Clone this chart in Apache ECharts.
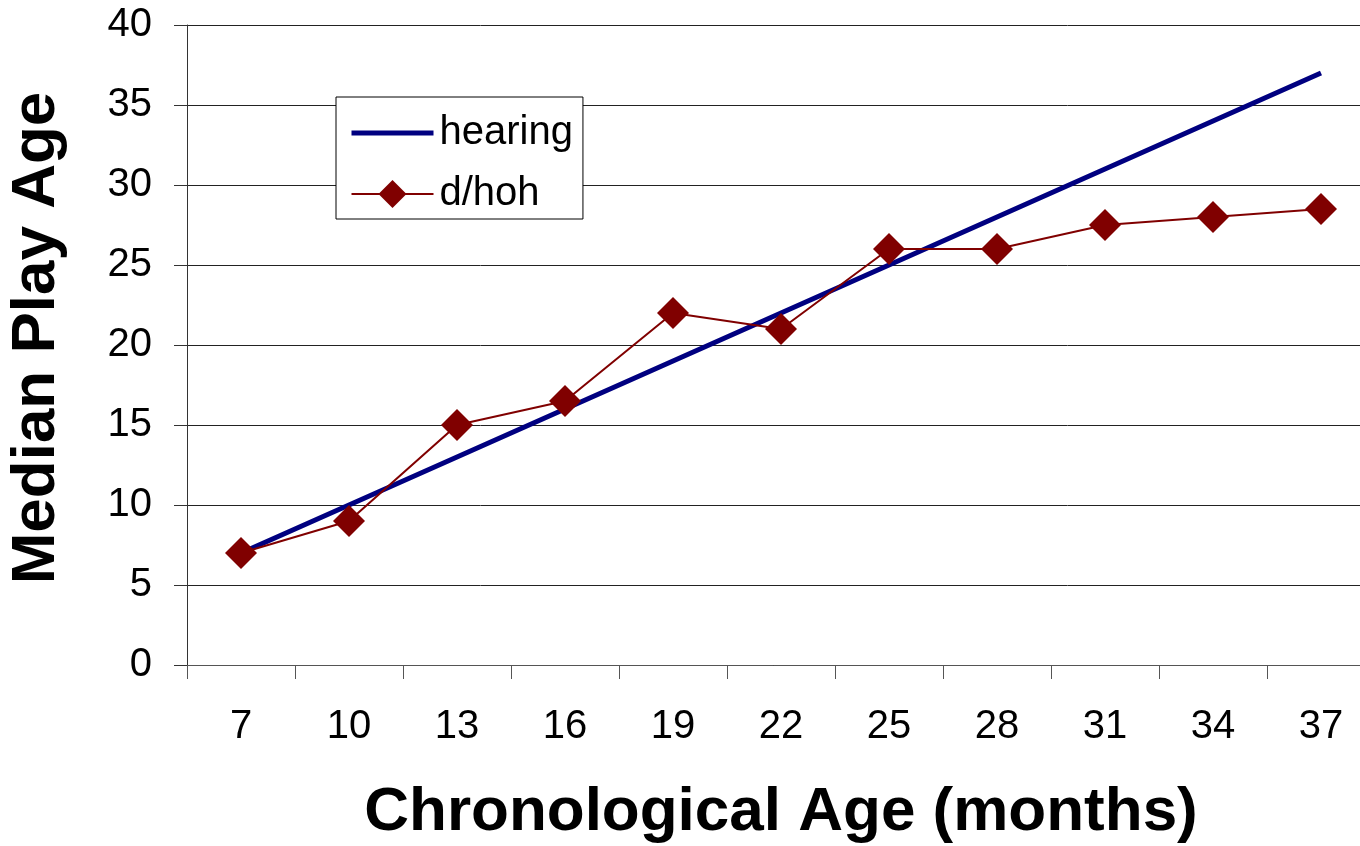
<!DOCTYPE html>
<html>
<head>
<meta charset="utf-8">
<style>
html,body{margin:0;padding:0;background:#fff;}
#c{width:1360px;height:846px;}
</style>
<script src="https://cdn.jsdelivr.net/npm/echarts@6/dist/echarts.min.js"></script>
</head>
<body>
<div id="c"></div>
<script>
const categories = ['7','10','13','16','19','22','25','28','31','34','37'];
const hearing = [7,10,13,16,19,22,25,28,31,34,37];
const dhoh = [7,9,15,16.5,22,21,26,26,27.5,28,28.5];
const yTicks = {min:0, max:40, interval:5};

const chart = echarts.init(document.getElementById('c'));
const FF = '"Liberation Sans", Arial, sans-serif';
chart.setOption({
  animation:false,
  backgroundColor:'#fff',
  grid:{left:187, right:-15, top:25, bottom:181, containLabel:false, outerBoundsMode:'none'},
  legend:{
    orient:'vertical', left:336, top:97,
    padding:[16,10,5,13],
    itemGap:21, itemWidth:82, itemHeight:35,
    borderColor:'#000', borderWidth:1,
    backgroundColor:'#fff',
    textStyle:{fontFamily:FF, fontSize:40, color:'#000', lineHeight:40, padding:[0,0,0,1]},
    data:[
      {name:'hearing', itemStyle:{opacity:0}, lineStyle:{width:5, color:'#000080'}},
      {name:'d/hoh', lineStyle:{width:2, color:'#800000'}}
    ]
  },
  xAxis:{
    type:'category', data:categories, boundaryGap:true,
    name:'Chronological Age (months)', nameLocation:'middle', nameGap:117,
    nameTextStyle:{fontFamily:FF, fontSize:62, fontWeight:'bold', color:'#000'},
    axisLine:{lineStyle:{color:'#555', width:1}},
    axisTick:{show:true, length:14, lineStyle:{color:'#555'}},
    axisLabel:{fontFamily:FF, fontSize:40, color:'#000', margin:42}
  },
  yAxis:{
    type:'value', min:yTicks.min, max:yTicks.max, interval:yTicks.interval,
    name:'Median Play Age', nameLocation:'middle', nameGap:119, nameRotate:90,
    nameTextStyle:{fontFamily:FF, fontSize:62, fontWeight:'bold', color:'#000', padding:[0,0,0,14]},
    axisLine:{show:true, lineStyle:{color:'#333', width:1}},
    axisTick:{show:true, length:13, lineStyle:{color:'#333'}},
    axisLabel:{fontFamily:FF, fontSize:40, color:'#000', margin:35},
    splitLine:{show:true, lineStyle:{color:'#222', width:1}}
  },
  series:[
    {name:'hearing', type:'line', data:hearing, symbol:'none', showSymbol:false,
     lineStyle:{color:'#000080', width:5}, itemStyle:{color:'#000080'}, z:2},
    {name:'d/hoh', type:'line', data:dhoh, symbol:'diamond', symbolSize:32, showSymbol:true,
     lineStyle:{color:'#800000', width:2}, itemStyle:{color:'#800000'}, z:3}
  ]
});
</script>
</body>
</html>
